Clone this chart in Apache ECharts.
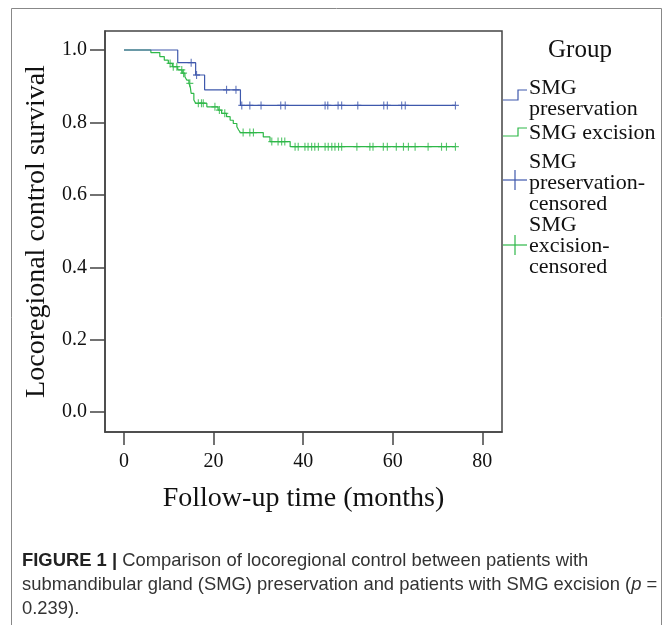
<!DOCTYPE html>
<html>
<head>
<meta charset="utf-8">
<script src="https://cdn.jsdelivr.net/npm/echarts@6/dist/echarts.min.js"></script>
<style>
  html, body { margin: 0; padding: 0; background: #fff; }
  #chart { width: 672px; height: 625px; }
</style>
</head>
<body>
<div id="chart"></div>
<script>
// Kaplan-Meier steps (months, survival)
const presTimes = [0, 12.0, 16.0, 18.0, 26.0, 74];
const presSurv = [1.0, 0.965, 0.931, 0.890, 0.847, 0.847];
const presCensored = [15.0, 16.2, 22.9, 25.0, 26.3, 28.1, 30.6, 35.0, 36.0, 44.9, 45.5, 47.8, 48.6, 52.2, 58.0, 58.8, 62.0, 62.8, 74.0];

const excTimes = [0, 6.0, 8.0, 9.0, 9.9, 10.8, 12.0, 13.0, 13.6, 14.0, 14.5, 14.8, 15.0, 15.6, 16.0, 18.5, 21.0, 21.8, 22.9, 23.7, 24.4, 25.2, 25.6, 26.0, 31.1, 32.6, 37.1, 74];
const excSurv = [1.0, 0.993, 0.982, 0.972, 0.963, 0.954, 0.945, 0.936, 0.926, 0.917, 0.908, 0.898, 0.880, 0.862, 0.853, 0.843, 0.834, 0.825, 0.816, 0.806, 0.797, 0.788, 0.779, 0.772, 0.760, 0.747, 0.733, 0.733];
const excCensored = [10.3, 11.0, 11.8, 12.9, 13.3, 14.7, 16.6, 17.3, 17.7, 20.3, 21.3, 22.5, 26.6, 28.1, 28.9, 33.0, 34.4, 35.2, 35.9, 38.2, 38.9, 40.4, 41.1, 41.9, 42.6, 43.4, 44.9, 45.6, 46.4, 47.1, 47.9, 48.6, 52.0, 54.9, 55.6, 57.9, 58.8, 60.8, 62.4, 63.5, 65.0, 67.9, 70.9, 72.0, 74.0];

const xTicks = [0, 20, 40, 60, 80];
const yTicks = [0, 0.2, 0.4, 0.6, 0.8, 1.0];

const BLUE = '#3e58ac';
const GREEN = '#2eb848';
const SERIF = '"Liberation Serif", "Times New Roman", serif';
const SANS = '"Liberation Sans", Arial, sans-serif';
const PLUS = 'path://M0,5L10,5M5,0L5,10';

const toPairs = (xs, ys) => xs.map((x, i) => [x, ys[i]]);

// survival value of the step curve at time t
const stepAt = (times, surv, t) => {
  let s = surv[0];
  for (let i = 0; i < times.length; i++) {
    if (times[i] <= t) s = surv[i];
  }
  return s;
};

const censoredPairs = (times, surv, cens) => cens.map(t => [t, stepAt(times, surv, t)]);

const chart = echarts.init(document.getElementById('chart'));

const legendText = (x, y, text) => ({
  type: 'text', left: x, top: y,
  style: { text: text, fontFamily: SERIF, fontSize: 22, lineHeight: 21, fill: '#111' }
});

chart.setOption({
  animation: false,
  backgroundColor: '#fff',
  grid: {
    left: 105, top: 31, right: 170, bottom: 193,
    show: true, borderColor: '#444', borderWidth: 1.5, backgroundColor: '#fff'
  },
  xAxis: {
    type: 'value',
    min: -4.24, max: 84.4,
    name: 'Follow-up time (months)',
    nameLocation: 'middle',
    nameGap: 53,
    nameTextStyle: { fontFamily: SERIF, fontSize: 28, color: '#111' },
    axisLine: { show: true, onZero: false, lineStyle: { color: '#444', width: 1.5 } },
    axisTick: { show: true, length: 13, customValues: xTicks, lineStyle: { color: '#444', width: 1.5 } },
    axisLabel: { customValues: xTicks, margin: 20, fontFamily: SERIF, fontSize: 20, color: '#111' },
    splitLine: { show: false }
  },
  yAxis: {
    type: 'value',
    min: -0.055, max: 1.0525,
    name: 'Locoregional control survival',
    nameLocation: 'middle',
    nameGap: 52,
    nameTextStyle: { fontFamily: SERIF, fontSize: 28, color: '#111' },
    axisLine: { show: true, onZero: false, lineStyle: { color: '#444', width: 1.5 } },
    axisTick: { show: true, length: 15, customValues: yTicks, lineStyle: { color: '#444', width: 1.5 } },
    axisLabel: {
      customValues: yTicks, margin: 18, fontFamily: SERIF, fontSize: 20, color: '#111',
      formatter: v => v.toFixed(1)
    },
    splitLine: { show: false }
  },
  series: [
    {
      name: 'SMG preservation', type: 'line', step: 'end', showSymbol: false,
      data: toPairs(presTimes, presSurv),
      lineStyle: { color: BLUE, width: 1.2 }, z: 3
    },
    {
      name: 'SMG excision', type: 'line', step: 'end', showSymbol: false,
      data: toPairs(excTimes, excSurv),
      lineStyle: { color: GREEN, width: 1.2 }, z: 2
    },
    {
      name: 'SMG preservation-censored', type: 'scatter', symbol: PLUS, symbolSize: [7, 8],
      data: censoredPairs(presTimes, presSurv, presCensored),
      itemStyle: { color: 'rgba(0,0,0,0)', borderColor: BLUE, borderWidth: 1.2 }, z: 4
    },
    {
      name: 'SMG excision-censored', type: 'scatter', symbol: PLUS, symbolSize: [7, 8],
      data: censoredPairs(excTimes, excSurv, excCensored),
      itemStyle: { color: 'rgba(0,0,0,0)', borderColor: GREEN, borderWidth: 1.2 }, z: 4
    }
  ],
  graphic: [
    // outer figure border
    { type: 'rect', shape: { x: 11.5, y: 8.5, width: 650, height: 640 }, style: { fill: 'none', stroke: '#888', lineWidth: 1 }, z: -1 },
    // legend
    { type: 'text', left: 548, top: 38, style: { text: 'Group', fontFamily: SERIF, fontSize: 25, fill: '#111' } },
    { type: 'polyline', shape: { points: [[503, 100], [518, 100], [518, 90], [527, 90]] }, style: { stroke: BLUE, lineWidth: 1.2, fill: null } },
    legendText(529, 77, 'SMG\npreservation'),
    { type: 'polyline', shape: { points: [[503, 136], [518, 136], [518, 128], [527, 128]] }, style: { stroke: GREEN, lineWidth: 1.2, fill: null } },
    legendText(529, 122, 'SMG excision'),
    { type: 'line', shape: { x1: 503, y1: 180, x2: 527, y2: 180 }, style: { stroke: BLUE, lineWidth: 1.2 } },
    { type: 'line', shape: { x1: 515, y1: 170, x2: 515, y2: 190 }, style: { stroke: BLUE, lineWidth: 1.2 } },
    legendText(529, 151, 'SMG\npreservation-\ncensored'),
    { type: 'line', shape: { x1: 503, y1: 245, x2: 527, y2: 245 }, style: { stroke: GREEN, lineWidth: 1.2 } },
    { type: 'line', shape: { x1: 515, y1: 235, x2: 515, y2: 255 }, style: { stroke: GREEN, lineWidth: 1.2 } },
    legendText(529, 214, 'SMG\nexcision-\ncensored'),
    // caption
    {
      type: 'text', left: 22, top: 549,
      style: {
        text: '{b|FIGURE 1 |} Comparison of locoregional control between patients with\nsubmandibular gland (SMG) preservation and patients with SMG excision ({i|p} =\n0.239).',
        fontFamily: SANS,
        fontSize: 18.4,
        fill: '#333',
        lineHeight: 24,
        rich: {
          b: { fontWeight: 'bold', fontFamily: SANS, fontSize: 18.4, lineHeight: 24, fill: '#222' },
          i: { fontStyle: 'italic', fontFamily: SANS, fontSize: 18.4, lineHeight: 24, fill: '#333' }
        }
      }
    }
  ]
});
</script>
</body>
</html>
